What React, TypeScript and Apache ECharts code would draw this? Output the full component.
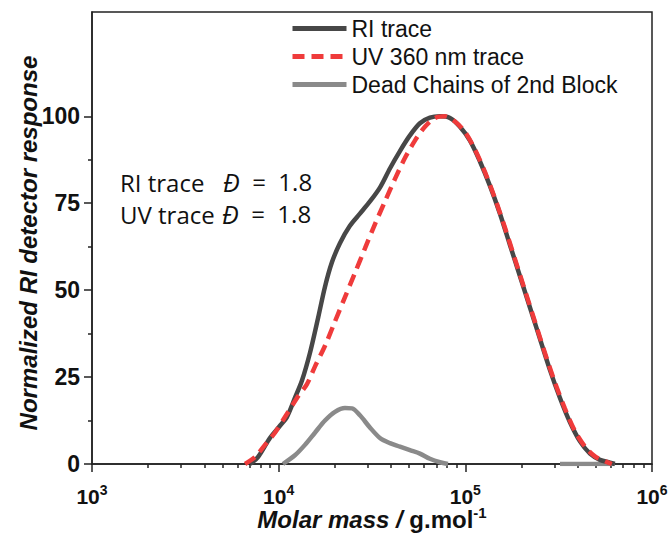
import React, { useEffect, useRef } from "react";
import * as echarts from "echarts";

// Molar mass (g/mol) and normalized response
const riMass = [7016, 7745, 8980, 10160, 11070, 12220, 13330, 14720, 16260, 17710, 19290, 21290, 24080, 27250, 30820, 34870, 39450, 44630, 50490, 57120, 64620, 73110, 82710, 93570, 105900, 119800, 135500, 153300, 173400, 196200, 221900, 251100, 284100, 321400, 363600, 411300, 465400, 526500, 595600, 632000];
const riValue = [0, 2, 7.5, 11, 13.5, 19, 24, 32, 42, 51, 58, 63.5, 68.5, 72, 75.5, 79.5, 85, 90, 94.5, 98, 99.6, 100, 99.5, 97, 93, 87, 80, 72, 63, 54, 45, 36, 27, 19, 12, 6.5, 3, 1.2, 0.4, 0];

const uvMass = [6607, 7460, 8450, 9550, 10810, 12540, 14180, 15640, 17710, 20030, 22660, 25640, 28990, 32810, 37090, 41980, 47460, 53700, 60750, 68700, 77800, 87960, 99500, 112500, 127300, 143900, 162900, 184300, 208400, 235800, 266700, 301700, 341300, 386100, 437500, 494600, 559500, 609000];
const uvValue = [0, 2, 5.5, 9, 13.5, 19, 23, 28, 34, 41, 48, 55, 62, 69, 75.5, 82, 88, 93, 97, 99.5, 100, 98.5, 95.5, 90.5, 84, 76.5, 68, 59, 50, 41, 32, 23.5, 16, 9.5, 5, 2.2, 0.8, 0];

const deadMass = [10540, 12220, 13830, 15640, 17710, 20030, 22660, 24710, 27250, 30820, 34870, 39450, 44630, 50490, 57120, 64620, 73110, 80700, 150000, 321400, 632000];
const deadValue: (number | string)[] = [0, 2.5, 5.5, 9, 12.5, 15, 16.1, 16, 14, 10.5, 7.5, 6, 5, 4, 3, 1.5, 0.5, 0, "-", 0, 0];

const seriesNames = ["RI trace", "UV 360 nm trace", "Dead Chains of 2nd Block"];
const yMajorTicks = [0, 25, 50, 75, 100];
const yMinorTicks = [12.5, 37.5, 62.5, 87.5];
const decades = [3, 4, 5];
const minorMultipliers = [2, 3, 4, 5, 6, 7, 8, 9];

const zip = (xs: number[], ys: (number | string)[]) => xs.map((x, i) => [x, ys[i]]);

const FONT = "Liberation Sans, Arial, sans-serif";
const NOTE_FONT = "24px 'Open Sans', sans-serif";
const AX = "#222";
const C_RI = "#474747";
const C_UV = "#ef3b3b";
const C_DEAD = "#8a8a8a";

export default function App() {
  const ref = useRef<HTMLDivElement>(null);
  useEffect(() => {
    if (!ref.current) return;
    const chart = echarts.init(ref.current, undefined, { renderer: "svg" });
    const xMinor: number[] = [];
    decades.forEach((d) => minorMultipliers.forEach((k) => xMinor.push(Math.log10(k * Math.pow(10, d)))));
    const dStyle = {
      text: "{i|Đ}  =  1.8",
      font: NOTE_FONT,
      fill: "#111",
      rich: { i: { fontStyle: "italic", fontFamily: "'Open Sans', sans-serif", fontSize: 25 } },
    };
    chart.setOption({
      animation: false,
      backgroundColor: "#fff",
      grid: {
        left: 92,
        right: 17,
        top: 12,
        bottom: 69,
        show: true,
        borderColor: AX,
        borderWidth: 1.5,
        backgroundColor: "transparent",
        outerBoundsMode: "none",
      },
      legend: {
        orient: "vertical",
        left: 285,
        top: 12,
        itemWidth: 54,
        itemHeight: 14,
        itemGap: 5,
        itemStyle: { opacity: 0 },
        data: [
          { name: seriesNames[0], lineStyle: { width: 5 } },
          { name: seriesNames[1], lineStyle: { width: 5 } },
          { name: seriesNames[2], lineStyle: { width: 5 } },
        ],
        textStyle: { fontFamily: FONT, fontSize: 23, color: "#111" },
      },
      xAxis: [
        {
          type: "log",
          logBase: 10,
          min: 1000,
          max: 1000000,
          name: "{i|Molar mass / }{n|g.mol}{s|-1}",
          nameLocation: "middle",
          nameGap: 41,
          nameMoveOverlap: false,
          nameTextStyle: {
            rich: {
              i: { fontFamily: FONT, fontSize: 24, fontStyle: "italic", fontWeight: "bold", color: "#111", lineHeight: 28 },
              n: { fontFamily: FONT, fontSize: 24, fontWeight: "bold", color: "#111", lineHeight: 28 },
              s: { fontFamily: FONT, fontSize: 15, fontWeight: "bold", color: "#111", verticalAlign: "top", lineHeight: 15 },
            },
          },
          axisLine: { show: true, lineStyle: { color: AX, width: 1.5 } },
          axisTick: { show: true, inside: false, length: 8, lineStyle: { color: AX, width: 1.5 } },
          minorTick: { show: false },
          splitLine: { show: false },
          axisLabel: {
            margin: 19,
            formatter: (v: number) => `{b|10}{s|${Math.round(Math.log10(v))}}`,
            rich: {
              b: { fontFamily: FONT, fontSize: 21, fontWeight: "bold", color: "#111", lineHeight: 26 },
              s: { fontFamily: FONT, fontSize: 14, fontWeight: "bold", color: "#111", verticalAlign: "top", lineHeight: 14 },
            },
          },
        },
        {
          type: "value",
          min: 3,
          max: 6,
          position: "bottom",
          offset: 0,
          axisLine: { show: false },
          axisLabel: { show: false },
          splitLine: { show: false },
          axisTick: { show: true, inside: false, length: 4, customValues: xMinor, lineStyle: { color: AX, width: 1.5 } },
        },
      ],
      yAxis: [
        {
          type: "value",
          min: 0,
          max: 130,
          interval: 25,
          name: "Normalized RI detector response",
          nameLocation: "middle",
          nameGap: 52,
          nameMoveOverlap: false,
          nameTextStyle: {
            fontFamily: FONT,
            fontSize: 24,
            fontStyle: "italic",
            fontWeight: "bold",
            color: "#111",
            padding: [0, 10, 0, 0],
          },
          axisLine: { show: true, lineStyle: { color: AX, width: 1.5 } },
          axisTick: { show: true, inside: false, length: 8, customValues: yMajorTicks, lineStyle: { color: AX, width: 1.5 } },
          axisLabel: {
            customValues: yMajorTicks,
            margin: 12,
            fontFamily: FONT,
            fontSize: 23,
            fontWeight: "bold",
            color: "#111",
          },
          splitLine: { show: false },
        },
        {
          type: "value",
          min: 0,
          max: 130,
          position: "left",
          offset: 0,
          axisLine: { show: false },
          axisLabel: { show: false },
          splitLine: { show: false },
          axisTick: { show: true, inside: false, length: 4, customValues: yMinorTicks, lineStyle: { color: AX, width: 1.5 } },
        },
      ],
      series: [
        {
          name: seriesNames[2],
          type: "line",
          data: zip(deadMass, deadValue),
          symbol: "none",
          smooth: 0.3,
          connectNulls: false,
          lineStyle: { color: C_DEAD, width: 4.5 },
          itemStyle: { color: C_DEAD },
        },
        {
          name: seriesNames[0],
          type: "line",
          data: zip(riMass, riValue),
          symbol: "none",
          smooth: 0.3,
          lineStyle: { color: C_RI, width: 4.5 },
          itemStyle: { color: C_RI },
        },
        {
          name: seriesNames[1],
          type: "line",
          data: zip(uvMass, uvValue),
          symbol: "none",
          smooth: 0.3,
          lineStyle: { color: C_UV, width: 4.5, type: [12, 7] },
          itemStyle: { color: C_UV },
        },
      ],
      graphic: [
        { type: "text", left: 120, top: 170, style: { text: "RI trace", font: NOTE_FONT, fill: "#111" } },
        { type: "text", left: 223, top: 169, style: dStyle },
        { type: "text", left: 120, top: 202, style: { text: "UV trace", font: NOTE_FONT, fill: "#111" } },
        { type: "text", left: 222, top: 201, style: dStyle },
      ],
    });
    return () => chart.dispose();
  }, []);
  return <div ref={ref} style={{ position: "absolute", left: 0, top: 0, width: 669, height: 533 }} />;
}
